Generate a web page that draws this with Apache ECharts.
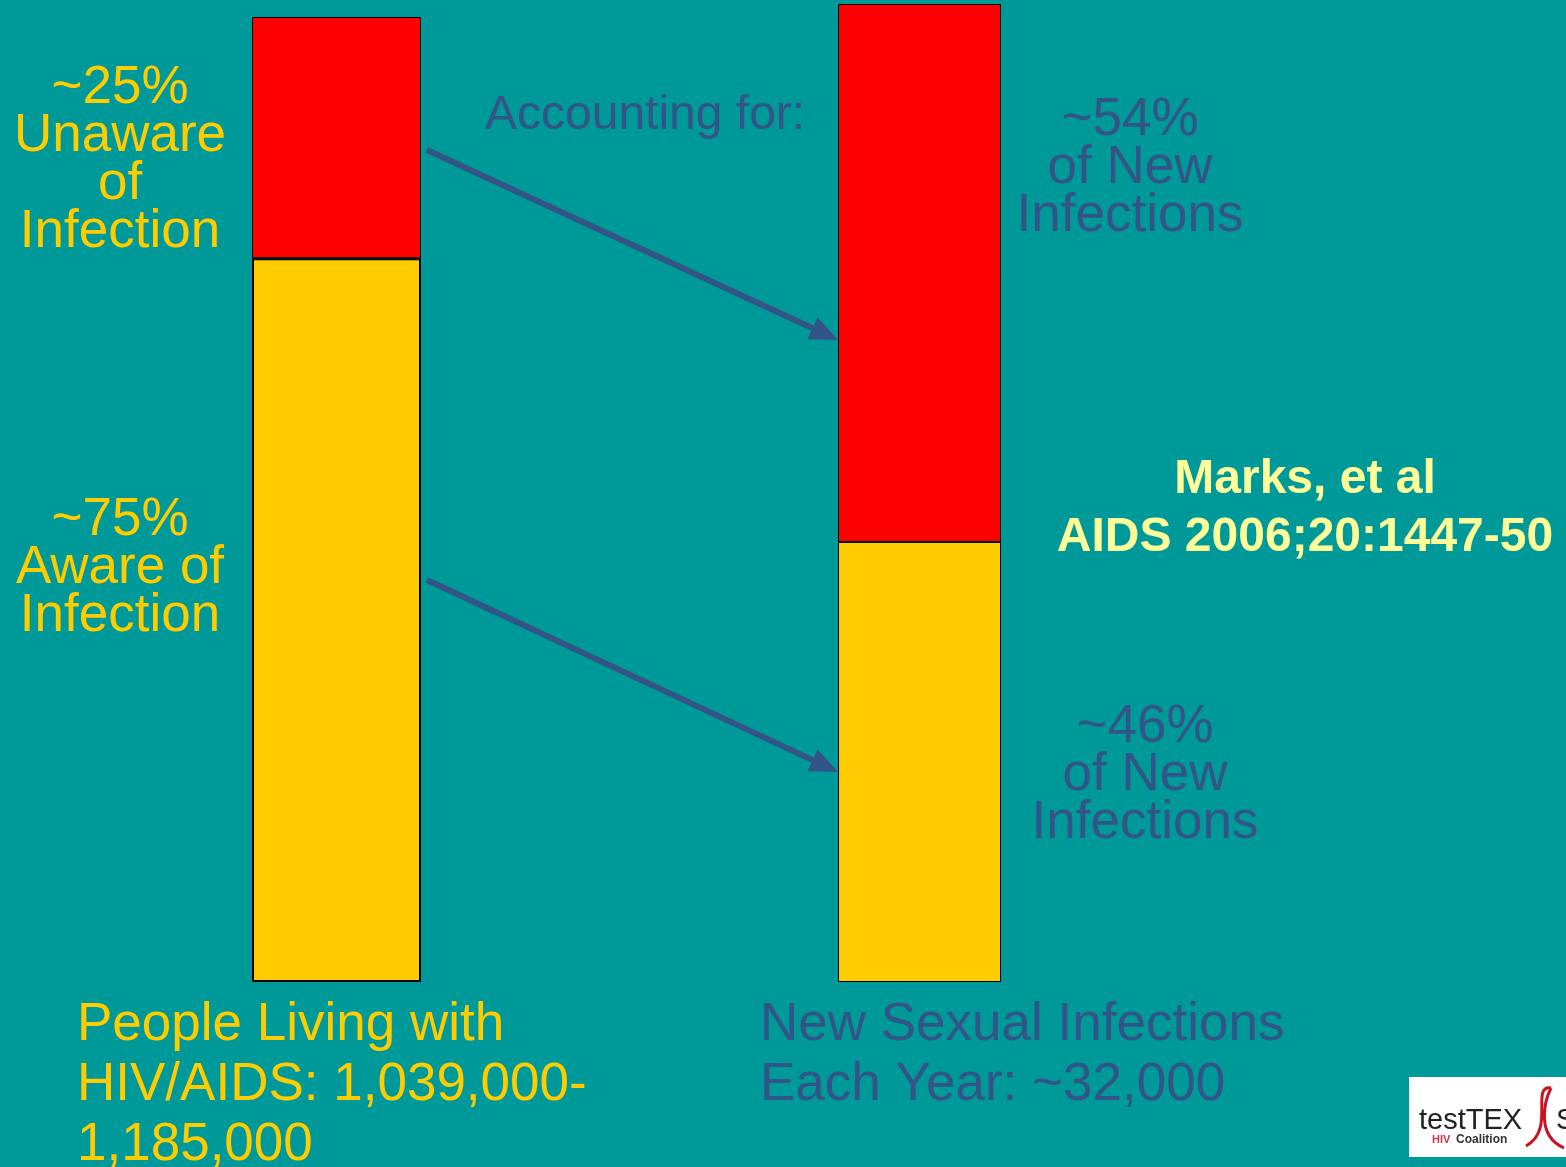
<!DOCTYPE html>
<html>
<head>
<meta charset="utf-8">
<script src="https://cdn.jsdelivr.net/npm/echarts@6/dist/echarts.min.js"></script>
<style>
html,body{margin:0;padding:0;background:#009999;}
#chart{width:1566px;height:1167px;}
</style>
</head>
<body>
<div id="chart"></div>
<script>
// Data
var groups = ['People Living with HIV/AIDS', 'New Sexual Infections Each Year'];
var livingAware = [75];     // % aware of infection
var livingUnaware = [25];   // % unaware of infection
var newFromAware = [45];    // % of new infections from aware
var newFromUnaware = [55];  // % of new infections from unaware
var leftLabels = ['~25%\nUnaware\nof\nInfection', '~75%\nAware of\nInfection'];
var rightLabels = ['~54%\nof New\nInfections', '~46%\nof New\nInfections'];
var bottomLabels = ['People Living with\nHIV/AIDS: 1,039,000-\n1,185,000', 'New Sexual Infections\nEach Year: ~32,000'];
var citation = 'Marks, et al\nAIDS 2006;20:1447-50';

var YELLOW = '#FFCC00', RED = '#FF0000', NAVY = '#325487', FONT = '"Liberation Sans", Arial, sans-serif';

var chart = echarts.init(document.getElementById('chart'));

function arrow(x1, y1, x2, y2) {
  var ang = Math.atan2(y2 - y1, x2 - x1);
  var hl = 28, hw = 12;
  var bx = x2 - hl * Math.cos(ang), by = y2 - hl * Math.sin(ang);
  var px = -Math.sin(ang), py = Math.cos(ang);
  return [
    {type: 'line', shape: {x1: x1, y1: y1, x2: bx, y2: by}, style: {stroke: NAVY, lineWidth: 6}, z: 10},
    {type: 'polygon', shape: {points: [[x2, y2], [bx + px * hw, by + py * hw], [bx - px * hw, by - py * hw]]}, style: {fill: NAVY}, z: 10}
  ];
}

function txt(x, y, text, color, size, lh, align, weight) {
  return {type: 'text', x: x, y: y, z: 20, style: {text: text, fill: color, font: (weight || 'normal') + ' ' + size + 'px ' + FONT,
    lineHeight: lh, align: align, verticalAlign: 'middle'}};
}

var graphics = []
  .concat(arrow(427, 150, 838, 340))
  .concat(arrow(427, 580, 838, 772))
  .concat([
    txt(120, 160, leftLabels[0], YELLOW, 53, 48, 'center'),
    txt(120, 568, leftLabels[1], YELLOW, 53, 48, 'center'),
    txt(485, 116, 'Accounting for:', NAVY, 48, 48, 'left'),
    txt(1130, 168, rightLabels[0], NAVY, 53, 48, 'center'),
    txt(1145, 775, rightLabels[1], NAVY, 53, 48, 'center'),
    txt(77, 1085, bottomLabels[0], YELLOW, 53, 60, 'left'),
    txt(760, 1055, bottomLabels[1], NAVY, 53, 60, 'left'),
    txt(1305, 509, citation, '#FFFF99', 48, 58, 'center', 'bold'),
    // logo
    {type: 'rect', shape: {x: 1409, y: 1077, width: 160, height: 80}, style: {fill: '#FFFFFF'}, z: 20},
    {type: 'text', x: 1419, y: 1121, z: 21, style: {text: 'testTEX', fill: '#222222', font: 'normal 29px ' + FONT, verticalAlign: 'middle'}},
    {type: 'text', x: 1432, y: 1140, z: 21, style: {text: 'HIV', fill: '#CC3344', font: 'bold 11px ' + FONT, verticalAlign: 'middle'}},
    {type: 'text', x: 1456, y: 1140, z: 21, style: {text: 'Coalition', fill: '#333333', font: 'bold 12px ' + FONT, verticalAlign: 'middle'}},
    {type: 'bezierCurve', shape: {x1: 1526, y1: 1146, x2: 1551, y2: 1088, cpx1: 1556, cpy1: 1130, cpx2: 1530, cpy2: 1085}, style: {stroke: '#CC1122', lineWidth: 3, fill: null}, z: 21},
    {type: 'bezierCurve', shape: {x1: 1551, y1: 1088, x2: 1564, y2: 1148, cpx1: 1545, cpy1: 1100, cpx2: 1535, cpy2: 1135}, style: {stroke: '#CC1122', lineWidth: 3, fill: null}, z: 21},
    {type: 'text', x: 1556, y: 1121, z: 21, style: {text: 'S', fill: '#222222', font: 'normal 29px ' + FONT, verticalAlign: 'middle'}}
  ]);

chart.setOption({
  backgroundColor: '#009999',
  animation: false,
  grid: [
    {left: 252, width: 169, top: 17, height: 965},
    {left: 838, width: 163, top: 4, height: 978}
  ],
  xAxis: [
    {type: 'category', gridIndex: 0, data: [groups[0]], show: false},
    {type: 'category', gridIndex: 1, data: [groups[1]], show: false}
  ],
  yAxis: [
    {type: 'value', gridIndex: 0, min: 0, max: 100, show: false},
    {type: 'value', gridIndex: 1, min: 0, max: 100, show: false}
  ],
  series: [
    {type: 'bar', xAxisIndex: 0, yAxisIndex: 0, stack: 'l', barWidth: '100%', data: livingAware,
     itemStyle: {color: YELLOW, borderColor: '#000', borderWidth: 2}},
    {type: 'bar', xAxisIndex: 0, yAxisIndex: 0, stack: 'l', barWidth: '100%', data: livingUnaware,
     itemStyle: {color: RED, borderColor: '#000', borderWidth: 1}},
    {type: 'bar', xAxisIndex: 1, yAxisIndex: 1, stack: 'r', barWidth: '100%', data: newFromAware,
     itemStyle: {color: YELLOW, borderColor: '#000', borderWidth: 1}},
    {type: 'bar', xAxisIndex: 1, yAxisIndex: 1, stack: 'r', barWidth: '100%', data: newFromUnaware,
     itemStyle: {color: RED, borderColor: '#000', borderWidth: 1}}
  ],
  graphic: graphics
});
</script>
</body>
</html>
